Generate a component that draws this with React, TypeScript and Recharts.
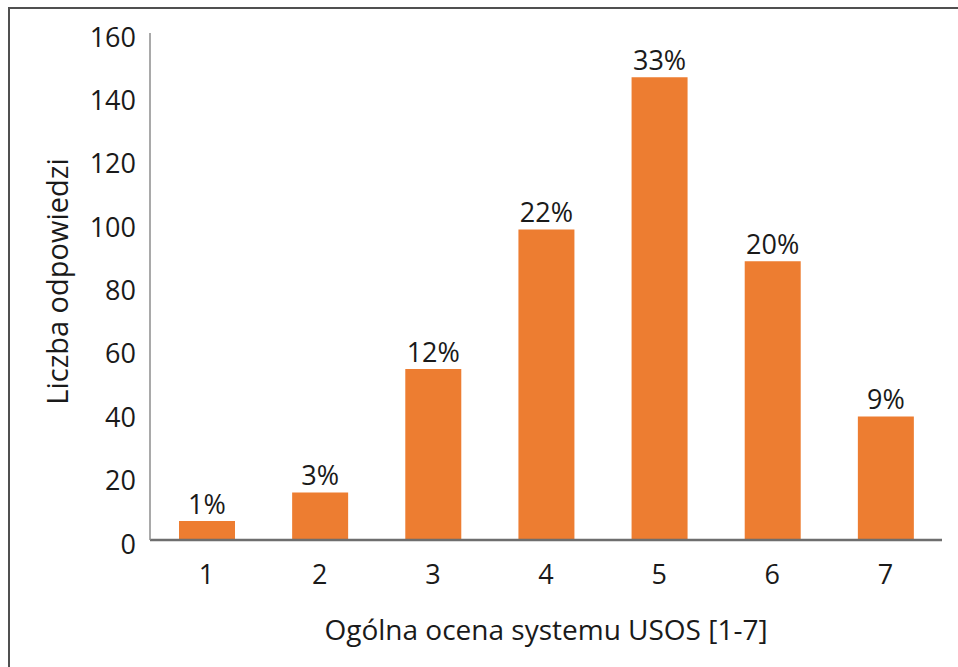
import React from 'react';
import { BarChart, Bar, XAxis, YAxis, LabelList } from 'recharts';

const ratings = ['1', '2', '3', '4', '5', '6', '7'];
const answers = [6, 15, 54, 98, 146, 88, 39];
const shares = ['1%', '3%', '12%', '22%', '33%', '20%', '9%'];
const yTicks = [0, 20, 40, 60, 80, 100, 120, 140, 160];

const data = ratings.map((r, i) => ({ rating: r, count: answers[i], share: shares[i] }));

const FONT = '"Open Sans", sans-serif';
const tickStyle = { fill: '#1a1a1a', fontSize: 27, fontFamily: FONT };

export default function App() {
  return (
    <div style={{ position: 'absolute', left: 0, top: 0, width: 958, height: 667, background: '#fff', overflow: 'hidden' }}>
      <div
        style={{
          position: 'absolute',
          left: 8,
          top: 7,
          width: 960,
          height: 670,
          borderTop: '2px solid #505050',
          borderLeft: '2px solid #505050',
        }}
      />
      <div style={{ position: 'absolute', left: 0, top: 0 }}>
        <BarChart
          width={958}
          height={667}
          data={data}
          margin={{ top: 33, right: 16, bottom: 27, left: 0 }}
          barCategoryGap="25%"
        >
          <XAxis
            dataKey="rating"
            height={100}
            tickLine={false}
            tickSize={0}
            tickMargin={25}
            axisLine={{ stroke: '#6e6e6e', strokeWidth: 2.5 }}
            tick={tickStyle}
            label={{
              value: 'Ogólna ocena systemu USOS [1-7]',
              position: 'insideBottom',
              offset: 0,
              style: { fill: '#1a1a1a', fontSize: 28, fontFamily: FONT },
            }}
          />
          <YAxis
            width={150}
            domain={[0, 160]}
            ticks={yTicks}
            interval={0}
            tickLine={false}
            tickSize={0}
            tickMargin={14}
            axisLine={{ stroke: '#8c8c8c', strokeWidth: 1.5 }}
            tick={{ ...tickStyle, dy: 4 }}
            label={{
              value: 'Liczba odpowiedzi',
              angle: -90,
              position: 'insideLeft',
              offset: 58,
              dy: -5,
              style: { textAnchor: 'middle', fill: '#1a1a1a', fontSize: 29, fontFamily: FONT },
            }}
          />
          <Bar dataKey="count" fill="#ED7D31" barSize={56} isAnimationActive={false}>
            <LabelList
              dataKey="share"
              position="top"
              offset={7}
              style={{ fill: '#1a1a1a', fontSize: 27, fontFamily: FONT }}
            />
          </Bar>
        </BarChart>
      </div>
    </div>
  );
}
